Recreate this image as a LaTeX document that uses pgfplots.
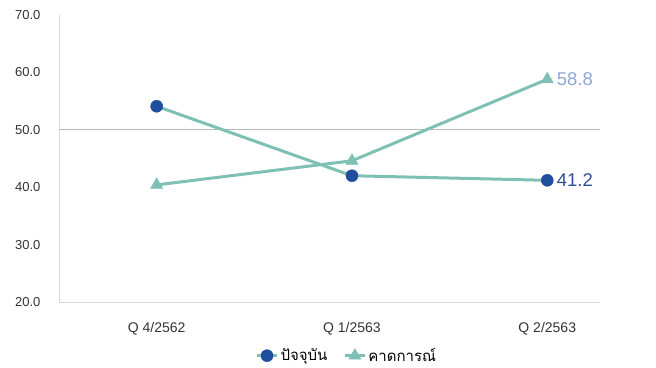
\documentclass[border=0pt]{standalone}
\usepackage{pgfplots}
\pgfplotsset{compat=1.18}
\usepackage{fontspec}
\setmainfont{Liberation Sans}
\newfontfamily\thaifont[Script=Thai]{Loma}
\definecolor{tealline}{HTML}{7FC0B5}
\definecolor{bluemark}{HTML}{1F4E9F}
\definecolor{lightlab}{HTML}{8FA6D6}
\definecolor{darklab}{HTML}{2E4E98}
\definecolor{axgray}{HTML}{D9D9D9}
\definecolor{gridgray}{HTML}{B8B8B8}
\begin{document}
\begin{tikzpicture}[x=1pt,y=1pt]
\useasboundingbox (0,0) rectangle (656,367);
\begin{axis}[
  at={(59pt,65pt)}, anchor=south west,
  scale only axis, width=541pt, height=287pt,
  xmin=-0.5, xmax=2.27, ymin=20, ymax=70,
  xtick={0,1,2},
  xticklabels={Q 4/2562, Q 1/2563, Q 2/2563},
  ytick={20,30,40,50,60,70},
  yticklabel style={/pgf/number format/fixed, /pgf/number format/fixed zerofill, /pgf/number format/precision=1, /pgf/number format/assume math mode=true, xshift=-15pt, font=\fontsize{13}{15}\selectfont},
  ticklabel style={text=black!80},
  xticklabel style={yshift=-17pt, font=\fontsize{14}{16}\selectfont},
  major tick length=0pt,
  axis lines*=left,
  axis line style={axgray, line width=0.8pt},
  clip=false,
  legend style={at={(0.532,-0.187)}, anchor=center, draw=none, fill=none,
    legend columns=2, font=\thaifont\fontsize{15}{17}\selectfont,
    /tikz/every even column/.append style={column sep=14pt}},
  legend cell align=left,
  legend image code/.code={
    \draw[mark repeat=2,mark phase=2,#1] plot coordinates {(0pt,0pt) (10pt,0pt) (20pt,0pt)};},
]
\draw[gridgray, line width=1pt] (axis cs:-0.5,50) -- (axis cs:2.27,50);
\addplot[tealline, line width=3pt, mark=*, mark size=6pt,
  mark options={fill=bluemark, draw=bluemark, line width=0.5pt}]
  coordinates {(0,54.1) (1,42.0) (2,41.2)};
\addlegendentry{ปัจจุบัน}
\addplot[tealline, line width=3pt, mark=triangle*, mark size=7pt,
  mark options={fill=tealline, draw=tealline, line width=0.5pt}]
  coordinates {(0,40.4) (1,44.6) (2,58.8)};
\addlegendentry{คาดการณ์}
\node[anchor=west, text=lightlab, font=\fontsize{18.5}{20}\selectfont] at (axis cs:2,58.8) [xshift=6pt] {58.8};
\node[anchor=west, text=darklab, font=\fontsize{18.5}{20}\selectfont] at (axis cs:2,41.2) [xshift=6pt] {41.2};
\end{axis}
\end{tikzpicture}
\end{document}
